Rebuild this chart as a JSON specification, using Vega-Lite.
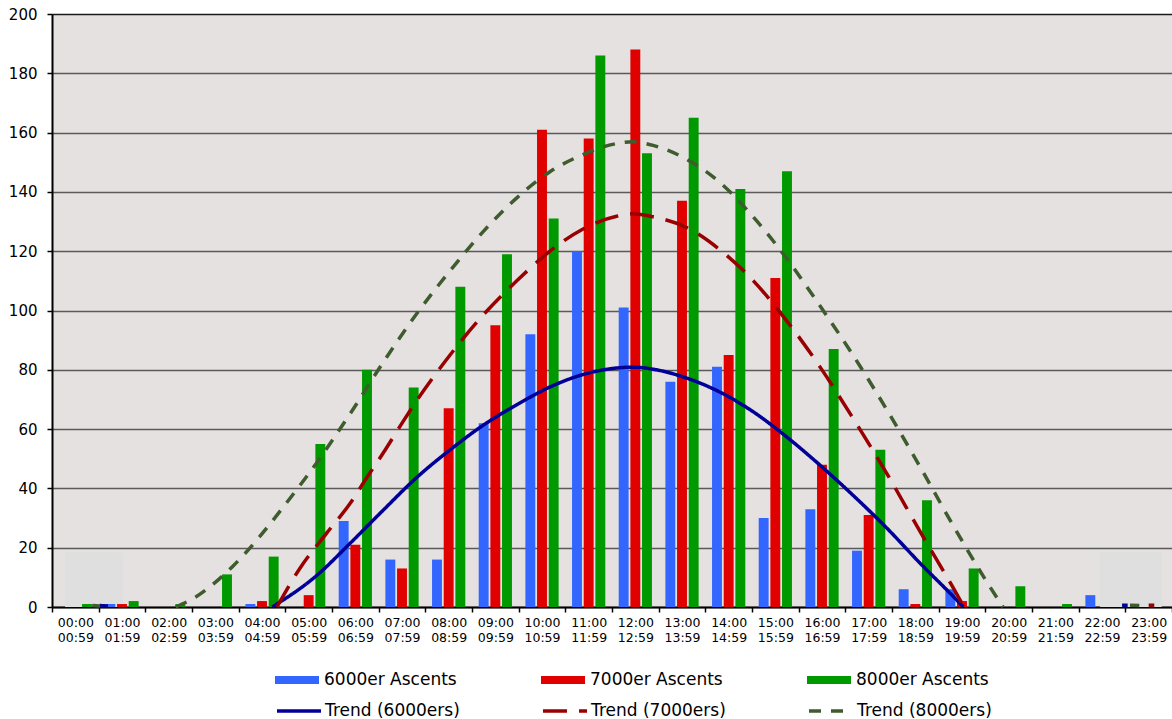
{
  "$schema": "https://vega.github.io/schema/vega-lite/v6.json",
  "width": 1120,
  "height": 593,
  "autosize": {"type": "none"},
  "padding": {"left": 52, "top": 14, "right": 0, "bottom": 112},
  "background": "white",
  "config": {"view": {"fill": "#e6e1e1", "stroke": null}, "font": "DejaVu Sans"},
  "datasets": {
    "night": [
      {"start": 0.28, "end": 1.52, "value": 18.5},
      {"start": 22.46, "end": 23.78, "value": 18.5}
    ],
    "bars": [
      {"hour": "00:00", "category": "6000er Ascents", "value": 0}, {"hour": "00:00", "category": "7000er Ascents", "value": 0}, {"hour": "00:00", "category": "8000er Ascents", "value": 1},
      {"hour": "01:00", "category": "6000er Ascents", "value": 1}, {"hour": "01:00", "category": "7000er Ascents", "value": 1}, {"hour": "01:00", "category": "8000er Ascents", "value": 2},
      {"hour": "02:00", "category": "6000er Ascents", "value": 0}, {"hour": "02:00", "category": "7000er Ascents", "value": 0}, {"hour": "02:00", "category": "8000er Ascents", "value": 1},
      {"hour": "03:00", "category": "6000er Ascents", "value": 0}, {"hour": "03:00", "category": "7000er Ascents", "value": 0}, {"hour": "03:00", "category": "8000er Ascents", "value": 11},
      {"hour": "04:00", "category": "6000er Ascents", "value": 1}, {"hour": "04:00", "category": "7000er Ascents", "value": 2}, {"hour": "04:00", "category": "8000er Ascents", "value": 17},
      {"hour": "05:00", "category": "6000er Ascents", "value": 0}, {"hour": "05:00", "category": "7000er Ascents", "value": 4}, {"hour": "05:00", "category": "8000er Ascents", "value": 55},
      {"hour": "06:00", "category": "6000er Ascents", "value": 29}, {"hour": "06:00", "category": "7000er Ascents", "value": 21}, {"hour": "06:00", "category": "8000er Ascents", "value": 80},
      {"hour": "07:00", "category": "6000er Ascents", "value": 16}, {"hour": "07:00", "category": "7000er Ascents", "value": 13}, {"hour": "07:00", "category": "8000er Ascents", "value": 74},
      {"hour": "08:00", "category": "6000er Ascents", "value": 16}, {"hour": "08:00", "category": "7000er Ascents", "value": 67}, {"hour": "08:00", "category": "8000er Ascents", "value": 108},
      {"hour": "09:00", "category": "6000er Ascents", "value": 62}, {"hour": "09:00", "category": "7000er Ascents", "value": 95}, {"hour": "09:00", "category": "8000er Ascents", "value": 119},
      {"hour": "10:00", "category": "6000er Ascents", "value": 92}, {"hour": "10:00", "category": "7000er Ascents", "value": 161}, {"hour": "10:00", "category": "8000er Ascents", "value": 131},
      {"hour": "11:00", "category": "6000er Ascents", "value": 120}, {"hour": "11:00", "category": "7000er Ascents", "value": 158}, {"hour": "11:00", "category": "8000er Ascents", "value": 186},
      {"hour": "12:00", "category": "6000er Ascents", "value": 101}, {"hour": "12:00", "category": "7000er Ascents", "value": 188}, {"hour": "12:00", "category": "8000er Ascents", "value": 153},
      {"hour": "13:00", "category": "6000er Ascents", "value": 76}, {"hour": "13:00", "category": "7000er Ascents", "value": 137}, {"hour": "13:00", "category": "8000er Ascents", "value": 165},
      {"hour": "14:00", "category": "6000er Ascents", "value": 81}, {"hour": "14:00", "category": "7000er Ascents", "value": 85}, {"hour": "14:00", "category": "8000er Ascents", "value": 141},
      {"hour": "15:00", "category": "6000er Ascents", "value": 30}, {"hour": "15:00", "category": "7000er Ascents", "value": 111}, {"hour": "15:00", "category": "8000er Ascents", "value": 147},
      {"hour": "16:00", "category": "6000er Ascents", "value": 33}, {"hour": "16:00", "category": "7000er Ascents", "value": 48}, {"hour": "16:00", "category": "8000er Ascents", "value": 87},
      {"hour": "17:00", "category": "6000er Ascents", "value": 19}, {"hour": "17:00", "category": "7000er Ascents", "value": 31}, {"hour": "17:00", "category": "8000er Ascents", "value": 53},
      {"hour": "18:00", "category": "6000er Ascents", "value": 6}, {"hour": "18:00", "category": "7000er Ascents", "value": 1}, {"hour": "18:00", "category": "8000er Ascents", "value": 36},
      {"hour": "19:00", "category": "6000er Ascents", "value": 6}, {"hour": "19:00", "category": "7000er Ascents", "value": 2}, {"hour": "19:00", "category": "8000er Ascents", "value": 13},
      {"hour": "20:00", "category": "6000er Ascents", "value": 0}, {"hour": "20:00", "category": "7000er Ascents", "value": 0}, {"hour": "20:00", "category": "8000er Ascents", "value": 7},
      {"hour": "21:00", "category": "6000er Ascents", "value": 0}, {"hour": "21:00", "category": "7000er Ascents", "value": 0}, {"hour": "21:00", "category": "8000er Ascents", "value": 1},
      {"hour": "22:00", "category": "6000er Ascents", "value": 4}, {"hour": "22:00", "category": "7000er Ascents", "value": 0}, {"hour": "22:00", "category": "8000er Ascents", "value": 0},
      {"hour": "23:00", "category": "6000er Ascents", "value": 0}, {"hour": "23:00", "category": "7000er Ascents", "value": 0}, {"hour": "23:00", "category": "8000er Ascents", "value": 0}
    ],
    "trend": [
      {"trend": "Trend (6000ers)", "seg": "a", "t": 1.02, "value": 0.5},
      {"trend": "Trend (6000ers)", "seg": "a", "t": 1.2, "value": 0.3},
      {"trend": "Trend (6000ers)", "seg": "m", "t": 4.72, "value": 0},
      {"trend": "Trend (6000ers)", "seg": "m", "t": 5.67, "value": 10.6},
      {"trend": "Trend (6000ers)", "seg": "m", "t": 6.39, "value": 21.5},
      {"trend": "Trend (6000ers)", "seg": "m", "t": 7.1, "value": 32.7},
      {"trend": "Trend (6000ers)", "seg": "m", "t": 7.81, "value": 43.6},
      {"trend": "Trend (6000ers)", "seg": "m", "t": 8.53, "value": 53},
      {"trend": "Trend (6000ers)", "seg": "m", "t": 9.24, "value": 61.3},
      {"trend": "Trend (6000ers)", "seg": "m", "t": 9.96, "value": 68.2},
      {"trend": "Trend (6000ers)", "seg": "m", "t": 10.67, "value": 74.2},
      {"trend": "Trend (6000ers)", "seg": "m", "t": 11.38, "value": 78.4},
      {"trend": "Trend (6000ers)", "seg": "m", "t": 12.1, "value": 80.6},
      {"trend": "Trend (6000ers)", "seg": "m", "t": 12.45, "value": 80.9},
      {"trend": "Trend (6000ers)", "seg": "m", "t": 12.88, "value": 80.2},
      {"trend": "Trend (6000ers)", "seg": "m", "t": 13.6, "value": 77.2},
      {"trend": "Trend (6000ers)", "seg": "m", "t": 14.31, "value": 72.5},
      {"trend": "Trend (6000ers)", "seg": "m", "t": 15.03, "value": 65.8},
      {"trend": "Trend (6000ers)", "seg": "m", "t": 15.74, "value": 57.4},
      {"trend": "Trend (6000ers)", "seg": "m", "t": 16.46, "value": 47.8},
      {"trend": "Trend (6000ers)", "seg": "m", "t": 17.17, "value": 37.6},
      {"trend": "Trend (6000ers)", "seg": "m", "t": 17.89, "value": 26.6},
      {"trend": "Trend (6000ers)", "seg": "m", "t": 18.6, "value": 14.8},
      {"trend": "Trend (6000ers)", "seg": "m", "t": 19.31, "value": 3.6},
      {"trend": "Trend (6000ers)", "seg": "m", "t": 19.53, "value": 0},
      {"trend": "Trend (6000ers)", "seg": "z", "t": 22.93, "value": 0.6},
      {"trend": "Trend (6000ers)", "seg": "z", "t": 23.05, "value": 0.6},
      {"trend": "Trend (7000ers)", "seg": "m", "t": 4.82, "value": 0},
      {"trend": "Trend (7000ers)", "seg": "m", "t": 5.31, "value": 13},
      {"trend": "Trend (7000ers)", "seg": "m", "t": 5.89, "value": 25},
      {"trend": "Trend (7000ers)", "seg": "m", "t": 6.39, "value": 35},
      {"trend": "Trend (7000ers)", "seg": "m", "t": 6.74, "value": 43.5},
      {"trend": "Trend (7000ers)", "seg": "m", "t": 7.1, "value": 52},
      {"trend": "Trend (7000ers)", "seg": "m", "t": 7.46, "value": 61},
      {"trend": "Trend (7000ers)", "seg": "m", "t": 7.81, "value": 69.5},
      {"trend": "Trend (7000ers)", "seg": "m", "t": 8.17, "value": 77.5},
      {"trend": "Trend (7000ers)", "seg": "m", "t": 8.53, "value": 85},
      {"trend": "Trend (7000ers)", "seg": "m", "t": 9.24, "value": 98.5},
      {"trend": "Trend (7000ers)", "seg": "m", "t": 9.96, "value": 110},
      {"trend": "Trend (7000ers)", "seg": "m", "t": 10.67, "value": 120},
      {"trend": "Trend (7000ers)", "seg": "m", "t": 11.38, "value": 127.5},
      {"trend": "Trend (7000ers)", "seg": "m", "t": 12.1, "value": 131.8},
      {"trend": "Trend (7000ers)", "seg": "m", "t": 12.45, "value": 132.6},
      {"trend": "Trend (7000ers)", "seg": "m", "t": 12.88, "value": 131.6},
      {"trend": "Trend (7000ers)", "seg": "m", "t": 13.6, "value": 128},
      {"trend": "Trend (7000ers)", "seg": "m", "t": 14.31, "value": 120.5},
      {"trend": "Trend (7000ers)", "seg": "m", "t": 15.03, "value": 110},
      {"trend": "Trend (7000ers)", "seg": "m", "t": 15.74, "value": 96.6},
      {"trend": "Trend (7000ers)", "seg": "m", "t": 16.46, "value": 80.9},
      {"trend": "Trend (7000ers)", "seg": "m", "t": 17.17, "value": 63.5},
      {"trend": "Trend (7000ers)", "seg": "m", "t": 17.89, "value": 45},
      {"trend": "Trend (7000ers)", "seg": "m", "t": 18.6, "value": 25.5},
      {"trend": "Trend (7000ers)", "seg": "m", "t": 19.31, "value": 6.5},
      {"trend": "Trend (7000ers)", "seg": "m", "t": 19.5, "value": 1.2},
      {"trend": "Trend (7000ers)", "seg": "z", "t": 23.5, "value": 0.6},
      {"trend": "Trend (7000ers)", "seg": "z", "t": 23.62, "value": 0.6},
      {"trend": "Trend (8000ers)", "seg": "a", "t": 0.86, "value": 0.5},
      {"trend": "Trend (8000ers)", "seg": "a", "t": 1.03, "value": 0.3},
      {"trend": "Trend (8000ers)", "seg": "m", "t": 2.65, "value": 0},
      {"trend": "Trend (8000ers)", "seg": "m", "t": 3.06, "value": 3.2},
      {"trend": "Trend (8000ers)", "seg": "m", "t": 3.46, "value": 7.8},
      {"trend": "Trend (8000ers)", "seg": "m", "t": 3.86, "value": 13.5},
      {"trend": "Trend (8000ers)", "seg": "m", "t": 4.39, "value": 22.6},
      {"trend": "Trend (8000ers)", "seg": "m", "t": 4.96, "value": 33.8},
      {"trend": "Trend (8000ers)", "seg": "m", "t": 5.67, "value": 48.6},
      {"trend": "Trend (8000ers)", "seg": "m", "t": 6.39, "value": 65.2},
      {"trend": "Trend (8000ers)", "seg": "m", "t": 7.1, "value": 82.6},
      {"trend": "Trend (8000ers)", "seg": "m", "t": 7.81, "value": 98.8},
      {"trend": "Trend (8000ers)", "seg": "m", "t": 8.53, "value": 113.4},
      {"trend": "Trend (8000ers)", "seg": "m", "t": 9.24, "value": 126.6},
      {"trend": "Trend (8000ers)", "seg": "m", "t": 9.96, "value": 138},
      {"trend": "Trend (8000ers)", "seg": "m", "t": 10.67, "value": 146.8},
      {"trend": "Trend (8000ers)", "seg": "m", "t": 11.38, "value": 152.6},
      {"trend": "Trend (8000ers)", "seg": "m", "t": 12.1, "value": 156.3},
      {"trend": "Trend (8000ers)", "seg": "m", "t": 12.45, "value": 156.9},
      {"trend": "Trend (8000ers)", "seg": "m", "t": 12.88, "value": 155.7},
      {"trend": "Trend (8000ers)", "seg": "m", "t": 13.6, "value": 151},
      {"trend": "Trend (8000ers)", "seg": "m", "t": 14.31, "value": 143.2},
      {"trend": "Trend (8000ers)", "seg": "m", "t": 15.03, "value": 131.5},
      {"trend": "Trend (8000ers)", "seg": "m", "t": 15.74, "value": 117.6},
      {"trend": "Trend (8000ers)", "seg": "m", "t": 16.46, "value": 101.5},
      {"trend": "Trend (8000ers)", "seg": "m", "t": 17.17, "value": 84.8},
      {"trend": "Trend (8000ers)", "seg": "m", "t": 17.89, "value": 66.5},
      {"trend": "Trend (8000ers)", "seg": "m", "t": 18.6, "value": 47.3},
      {"trend": "Trend (8000ers)", "seg": "m", "t": 19.31, "value": 27.5},
      {"trend": "Trend (8000ers)", "seg": "m", "t": 20.03, "value": 8.5},
      {"trend": "Trend (8000ers)", "seg": "m", "t": 20.38, "value": 0},
      {"trend": "Trend (8000ers)", "seg": "z", "t": 23.1, "value": 0.6},
      {"trend": "Trend (8000ers)", "seg": "z", "t": 23.3, "value": 0.5}
    ]
  },
  "encoding": {
    "y": {
      "field": "value",
      "type": "quantitative",
      "scale": {"domain": [0, 200], "nice": false, "zero": true},
      "axis": {
        "title": null,
        "values": [0, 20, 40, 60, 80, 100, 120, 140, 160, 180, 200],
        "labelFontSize": 15,
        "labelFont": "DejaVu Sans",
        "labelColor": "black",
        "labelFlush": false,
        "labelOverlap": false,
        "labelPadding": 10,
        "tickColor": "black",
        "tickSize": 5,
        "tickWidth": 1.5,
        "domainColor": "black",
        "domainWidth": 2,
        "grid": true,
        "gridColor": {"condition": {"test": "datum.value === 200", "value": "#1a1a1a"}, "value": "#5a5a5a"},
        "gridWidth": 1.7
      }
    }
  },
  "layer": [
    {
      "data": {"name": "night"},
      "mark": {"type": "rect", "color": "#dfdfdf"},
      "encoding": {
        "x": {"field": "start", "type": "quantitative", "scale": {"domain": [0, 24], "nice": false, "zero": false}, "axis": null},
        "x2": {"field": "end"},
        "y2": {"datum": 0}
      }
    },
    {
      "data": {"name": "bars"},
      "mark": {"type": "bar"},
      "encoding": {
        "x": {
          "field": "hour",
          "type": "nominal",
          "sort": null,
          "scale": {"paddingInner": 0, "paddingOuter": 0},
          "axis": {
            "title": null,
            "tickBand": "extent",
            "labelAngle": 0,
            "labelOverlap": false,
            "labelExpr": "[datum.label, replace(datum.label, ':00', ':59')]",
            "labelFont": "DejaVu Sans",
            "labelFontSize": 12.5,
            "labelLineHeight": 15,
            "labelColor": "black",
            "labelPadding": 4,
            "tickColor": "black",
            "tickSize": 5,
            "tickWidth": 1.5,
            "domainColor": "black",
            "domainWidth": 2,
            "grid": false
          }
        },
        "xOffset": {"field": "category", "type": "nominal", "sort": null, "scale": {"paddingInner": 0.15, "paddingOuter": 0.575}},
        "fill": {
          "field": "category",
          "type": "nominal",
          "sort": null,
          "scale": {"domain": ["6000er Ascents", "7000er Ascents", "8000er Ascents"], "range": ["#3366ff", "#e00000", "#009900"]},
          "legend": {
            "orient": "none",
            "legendX": 223,
            "legendY": 644,
            "direction": "horizontal",
            "columns": 3,
            "title": null,
            "padding": 0,
            "symbolType": "M-1,-0.18H1V0.18H-1Z",
            "symbolSize": 1936,
            "symbolStrokeWidth": 0,
            "symbolOpacity": 1,
            "labelFont": "DejaVu Sans",
            "labelFontSize": 17,
            "labelColor": "black",
            "labelOffset": 5,
            "labelLimit": 400,
            "columnPadding": 84
          }
        }
      }
    },
    {
      "data": {"name": "trend"},
      "mark": {"type": "line", "strokeWidth": 3.5, "interpolate": "monotone"},
      "encoding": {
        "x": {"field": "t", "type": "quantitative", "scale": {"domain": [0, 24], "nice": false, "zero": false}, "axis": null},
        "detail": {"field": "seg", "type": "nominal"},
        "stroke": {
          "field": "trend",
          "type": "nominal",
          "sort": null,
          "scale": {"domain": ["Trend (6000ers)", "Trend (7000ers)", "Trend (8000ers)"], "range": ["#000099", "#990000", "#3e5c2d"]},
          "legend": {
            "orient": "none",
            "legendX": 223,
            "legendY": 673,
            "direction": "horizontal",
            "columns": 3,
            "title": null,
            "padding": 0,
            "symbolType": "stroke",
            "symbolSize": 1936,
            "symbolStrokeWidth": 3.5,
            "labelFont": "DejaVu Sans",
            "labelFontSize": 17,
            "labelColor": "black",
            "labelOffset": 2,
            "labelLimit": 400,
            "columnPadding": 76
          }
        },
        "strokeDash": {
          "field": "trend",
          "type": "nominal",
          "sort": null,
          "scale": {"domain": ["Trend (6000ers)", "Trend (7000ers)", "Trend (8000ers)"], "range": [[1, 0], [24, 12], [12, 10]]}
        }
      }
    }
  ],
  "resolve": {"scale": {"x": "independent"}}
}
